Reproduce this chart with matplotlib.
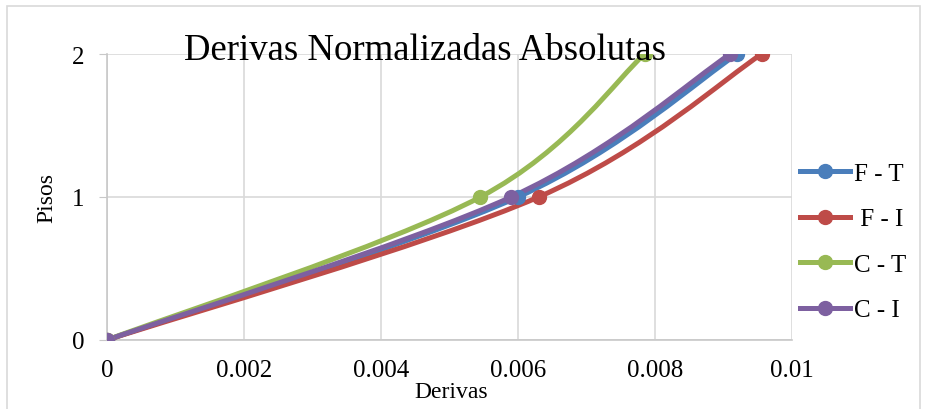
import numpy as np
import matplotlib.pyplot as plt
from matplotlib.path import Path
from matplotlib.patches import PathPatch, Rectangle
from matplotlib.lines import Line2D

plt.rcParams['font.family'] = ['Liberation Serif', 'DejaVu Serif']

pisos = [0, 1, 2]
f_t = [0, 0.0060, 0.0092]
f_i = [0, 0.0063, 0.00956]
c_t = [0, 0.00545, 0.00785]
c_i = [0, 0.0059, 0.0091]

series = [
    ('F - T', f_t, '#4a7ebb'),
    (' F - I', f_i, '#be4b48'),
    ('C - T', c_t, '#98b954'),
    ('C - I', c_i, '#7d60a0'),
]


def smooth_path(xs, ys):
    # curva suavizada tipo Excel (Bezier con tension 1/6)
    pts = np.column_stack([xs, ys]).astype(float)
    ext = np.vstack([pts[0], pts, pts[-1]])
    verts = [pts[0]]
    codes = [Path.MOVETO]
    for i in range(1, len(ext) - 2):
        p0, p1, p2, p3 = ext[i - 1], ext[i], ext[i + 1], ext[i + 2]
        verts += [p1 + (p2 - p0) / 6, p2 - (p3 - p1) / 6, p2]
        codes += [Path.CURVE4] * 3
    return Path(verts, codes)


fig = plt.figure(figsize=(9.25, 4.1), dpi=100)
ax = fig.add_axes([107 / 925, 69 / 410, 685 / 925, 286 / 410])

handles = []
for name, xs, col in series:
    patch = PathPatch(smooth_path(xs, pisos), facecolor='none', edgecolor=col,
                      lw=3.6, capstyle='round', joinstyle='round', zorder=3)
    ax.add_patch(patch)
    ax.plot(xs, pisos, 'o', color=col, ms=10, zorder=4)
    handles.append(Line2D([], [], color=col, lw=3.6, marker='o', ms=10))

ax.set_xlim(0, 0.01)
ax.set_ylim(0, 2)
ax.set_xticks([0, 0.002, 0.004, 0.006, 0.008, 0.01])
ax.set_xticklabels(['0', '0.002', '0.004', '0.006', '0.008', '0.01'])
ax.set_yticks([0, 1, 2])
ax.grid(True, color='#d9d9d9', lw=1.2)
ax.set_axisbelow(True)
for s in ['top', 'right']:
    ax.spines[s].set_visible(False)
for s in ['left', 'bottom']:
    ax.spines[s].set_color('#c8c8c8')
    ax.spines[s].set_linewidth(1.2)
ax.tick_params(axis='x', length=0, pad=14, labelsize=18)
ax.tick_params(axis='y', length=6, color='#c8c8c8', pad=10, labelsize=18)
for lab in ax.get_xticklabels() + ax.get_yticklabels():
    lab.set_clip_on(False)

ax.set_xlabel('Derivas', fontsize=17)
ax.set_ylabel('Pisos', fontsize=17)
ax.xaxis.set_label_coords(0.503, -0.145)
ax.yaxis.set_label_coords(-0.072, 0.5)

fig.text(0.46, 0.875, 'Derivas Normalizadas Absolutas', fontsize=26.5,
         ha='center', va='center', zorder=10)

fig.legend(handles, [s[0] for s in series], loc='center left',
           bbox_to_anchor=(790 / 925, 1 - 243 / 410), frameon=False,
           fontsize=18, handlelength=2.0, handletextpad=0.15,
           labelspacing=0.92, borderaxespad=0)

fig.patches.append(Rectangle((7 / 925, -0.1), 913 / 925, 1.083,
                             transform=fig.transFigure, fill=False,
                             edgecolor='#d9d9d9', lw=1.2))

fig.savefig('out.png', dpi=100)
